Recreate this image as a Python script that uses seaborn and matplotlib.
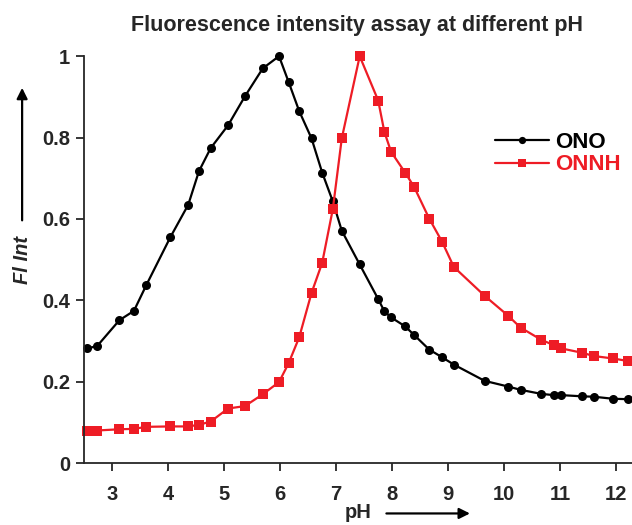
import numpy as np
import pandas as pd
import matplotlib
matplotlib.use("Agg")
import matplotlib.pyplot as plt
import seaborn as sns

# dados (pH compartilhado pelas duas series)
ph = [2.55, 2.73, 3.13, 3.39, 3.61, 4.04, 4.36, 4.55, 4.76, 5.07, 5.37, 5.69,
      5.98, 6.15, 6.34, 6.56, 6.75, 6.94, 7.10, 7.42, 7.75, 7.86, 7.98, 8.23,
      8.39, 8.66, 8.89, 9.10, 9.65, 10.07, 10.29, 10.66, 10.88, 11.01, 11.39,
      11.60, 11.94, 12.20]
ono = [0.282, 0.287, 0.351, 0.374, 0.437, 0.555, 0.635, 0.717, 0.774, 0.830,
       0.901, 0.970, 1.0, 0.937, 0.865, 0.798, 0.714, 0.643, 0.571, 0.488,
       0.403, 0.373, 0.358, 0.336, 0.315, 0.279, 0.260, 0.242, 0.202, 0.188,
       0.180, 0.170, 0.167, 0.167, 0.164, 0.163, 0.158, 0.157]
onnh = [0.078, 0.080, 0.083, 0.084, 0.089, 0.090, 0.090, 0.094, 0.102, 0.134,
        0.140, 0.169, 0.199, 0.245, 0.309, 0.418, 0.492, 0.624, 0.798, 1.0,
        0.891, 0.814, 0.765, 0.714, 0.679, 0.601, 0.544, 0.482, 0.411, 0.362,
        0.333, 0.303, 0.290, 0.282, 0.271, 0.263, 0.257, 0.251]
y_ticks = [0, 0.2, 0.4, 0.6, 0.8, 1]
y_labels = ["0", "0.2", "0.4", "0.6", "0.8", "1"]
x_ticks = [3, 4, 5, 6, 7, 8, 9, 10, 11, 12]

sns.set_style("ticks")
plt.rcParams['font.family'] = ['Liberation Sans', 'DejaVu Sans']

fig = plt.figure(figsize=(6.32, 5.25), dpi=100)
ax = fig.add_axes([0.133, 0.118, 0.867, 0.775])

sns.lineplot(x=ph, y=ono, ax=ax, color='black', marker='o', markersize=6.5,
             markeredgewidth=0, linewidth=1.6, label='ONO')
sns.lineplot(x=ph, y=onnh, ax=ax, color='#ee1c25', marker='s', markersize=6.5,
             markeredgewidth=0, linewidth=1.6, label='ONNH')

ax.set_xlim(2.5, 12.28)
ax.set_ylim(0, 1.0)
ax.set_xticks(x_ticks)
ax.set_yticks(y_ticks)
ax.set_yticklabels(y_labels)
ax.tick_params(axis='both', labelsize=14.5, width=1.3, length=6, direction='out')
ax.tick_params(axis='x', pad=10)
ax.tick_params(axis='y', pad=4)
for lbl in ax.get_xticklabels() + ax.get_yticklabels():
    lbl.set_fontweight('bold')
sns.despine(ax=ax)
ax.spines['left'].set_linewidth(1.3)
ax.spines['bottom'].set_linewidth(1.3)
ax.spines['left'].set_bounds(0, 1)
for ln in ax.lines:
    ln.set_clip_on(False)

fig.text(0.565, 0.952, "Fluorescence intensity assay at different pH",
         fontsize=15.5, fontweight='bold', ha='center', va='center')

leg = ax.legend(loc='center', bbox_to_anchor=(0.865, 0.76), frameon=False,
                fontsize=16, handlelength=2.4, handletextpad=0.3,
                labelspacing=0.05, borderpad=0, markerscale=0.8)
for txt, c in zip(leg.get_texts(), ['black', '#ee1c25']):
    txt.set_color(c)
    txt.set_fontweight('bold')

# rotulos dos eixos com setas
fig.text(0.035, 0.505, "Fl Int", rotation=90, fontsize=14.5, fontweight='bold',
         fontstyle='italic', ha='center', va='center')
fig.add_artist(matplotlib.patches.FancyArrowPatch(
    (0.035, 0.575), (0.035, 0.838), transform=fig.transFigure,
    arrowstyle='-|>', mutation_scale=16, linewidth=1.6, color='black'))
fig.text(0.567, 0.023, "pH", fontsize=14.5, fontweight='bold',
         ha='center', va='center')
fig.add_artist(matplotlib.patches.FancyArrowPatch(
    (0.607, 0.022), (0.748, 0.022), transform=fig.transFigure,
    arrowstyle='-|>', mutation_scale=16, linewidth=1.6, color='black'))

fig.savefig("out.png", dpi=100)
